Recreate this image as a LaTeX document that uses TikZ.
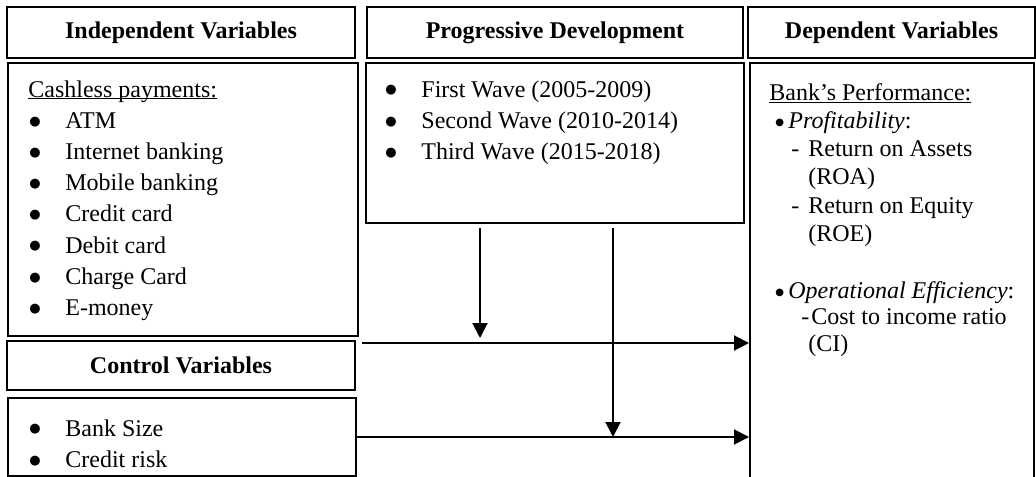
\documentclass[tikz,border=0pt]{standalone}
\usepackage{fontspec}
\setmainfont{Liberation Serif}
\newfontfamily\dotfont{DejaVu Sans}
\usetikzlibrary{arrows.meta}
\newcommand{\bigdot}{\raisebox{1.6pt}{\dotfont\fontsize{6.5}{7}\selectfont ●}}
\newcommand{\smalldot}{\raisebox{1.6pt}{\dotfont\fontsize{5}{6}\selectfont ●}}
\newcommand{\listbullet}[1]{\hspace*{0.5pt}\makebox[18pt][l]{\bigdot}#1}
\newcommand{\ulinetext}[1]{\setbox0\hbox{#1}\rlap{\rule[-1.2pt]{\wd0}{0.6pt}}\box0}

\begin{document}
\begin{tikzpicture}[x=0.5pt,y=-0.5pt,
    font=\fontsize{12}{15.6}\selectfont,
    box/.style={draw,line width=1pt,inner sep=0pt,anchor=north west},
    headbox/.style={draw,line width=1pt,inner sep=0pt,font=\fontsize{12}{15.6}\selectfont\bfseries},
    listtext/.style={anchor=north west,inner sep=0pt,align=left},
    flow/.style={line width=1pt,-{Triangle[width=7.5pt,length=7.5pt]}}]
  \clip (0,0) rectangle (1036,476) ;
  % headers
  \node[headbox,minimum width=174pt,minimum height=25.5pt] (indep) at (181,32.5) {Independent Variables} ;
  \node[headbox,minimum width=188pt,minimum height=25.5pt] (prog) at (555,32.5) {Progressive Development} ;
  \node[headbox,minimum width=143.5pt,minimum height=25.5pt] (dep) at (891.5,32.5) {Dependent Variables} ;
  \node[headbox,minimum width=174pt,minimum height=24.5pt] (ctrl) at (181,365.5) {Control Variables} ;
  % content boxes
  \node[box,minimum width=175pt,minimum height=136.5pt] (cash) at (7,62) {} ;
  \node[box,minimum width=189pt,minimum height=80pt] (waves) at (365,62) {} ;
  \node[box,minimum width=142pt,minimum height=212pt] (perfbox) at (749,62) {} ;
  \node[box,minimum width=174pt,minimum height=39pt] (size) at (7,397) {} ;
  \node[listtext] (cashlist) at (28,80) {\ulinetext{Cashless payments:}\\
    \listbullet{ATM}\\ \listbullet{Internet banking}\\ \listbullet{Mobile banking}\\
    \listbullet{Credit card}\\ \listbullet{Debit card}\\ \listbullet{Charge Card}\\
    \listbullet{E-money}} ;
  \node[listtext] (wavelist) at (384,80) {\listbullet{First Wave (2005-2009)}\\
    \listbullet{Second Wave (2010-2014)}\\ \listbullet{Third Wave (2015-2018)}} ;
  \node[listtext] (sizelist) at (28,419) {\listbullet{Bank Size}\\ \listbullet{Credit risk}} ;
  \node[listtext,font=\fontsize{12}{14.1}\selectfont] (proflist) at (769,83) {%
    \ulinetext{Bank's Performance:}\\
    \hspace*{3pt}\makebox[6.5pt][l]{\smalldot}\textit{Profitability}:\\
    \hspace*{11pt}\makebox[8.5pt][l]{-}Return on Assets\\
    \hspace*{19.5pt}(ROA)\\
    \hspace*{11pt}\makebox[8.5pt][l]{-}Return on Equity\\
    \hspace*{19.5pt}(ROE)} ;
  \node[listtext,font=\fontsize{12}{13.3}\selectfont] (efflist) at (769,281) {%
    \hspace*{3pt}\makebox[6.5pt][l]{\smalldot}\textit{Operational Efficiency}:\\
    \hspace*{16pt}\makebox[5pt][l]{-}Cost to income ratio\\
    \hspace*{19.5pt}(CI)} ;
  % connectors
  \coordinate (w1) at (480,228) ;
  \coordinate (w2) at (613,228) ;
  \coordinate (m1) at (362,343) ;
  \draw[flow] (m1) -- (m1 -| perfbox.west) ;
  \draw[flow] (size.east) -- (size.east -| perfbox.west) ;
  \draw[flow,shorten >=2.5pt] (w1) -- (w1 |- m1) ;
  \draw[flow] (w2) -- (w2 |- size.east) ;
\end{tikzpicture}
\end{document}
